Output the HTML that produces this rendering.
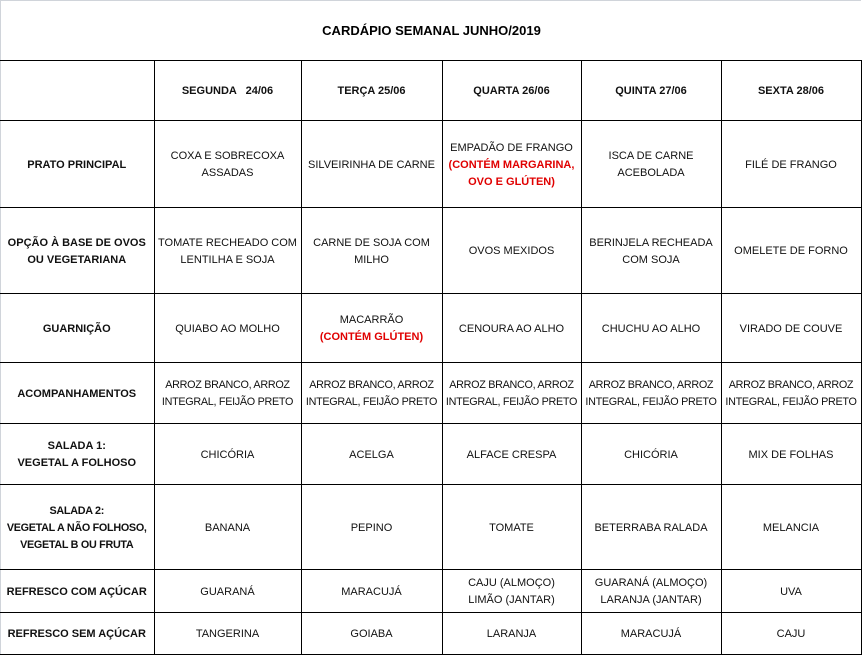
<!DOCTYPE html>
<html><head><meta charset="utf-8"><style>
body{margin:0;width:863px;height:656px;background:#fff;overflow:hidden;font-family:"Liberation Sans",sans-serif;position:relative}
.frame{position:absolute;left:0;top:0;width:861px;height:654px;border-left:1px solid #d0d4da;border-top:1px solid #d0d4da;box-sizing:border-box}
.title{position:absolute;left:0;top:1px;width:863px;height:60px;line-height:60px;text-align:center;font-weight:bold;font-size:13px;color:#000}
table{position:absolute;left:0;top:60px;border-collapse:collapse;table-layout:fixed}
td{border:1px solid #000;padding:2px 0 0 0;text-align:center;vertical-align:middle;font-size:11px;line-height:17px;color:#111;white-space:nowrap;overflow:hidden}
td.h{font-weight:bold}
td.t{letter-spacing:-0.3px;font-size:10.8px}
tr td:first-child{border-left:none;font-weight:bold}
.r{color:#e00000;font-weight:bold}
</style></head><body>
<div class="frame"></div>
<div class="title">CARDÁPIO SEMANAL JUNHO/2019</div>
<table>
<colgroup><col style="width:154px"><col style="width:147px"><col style="width:141px"><col style="width:139px"><col style="width:140px"><col style="width:140px"></colgroup>
<tr style="height:60px"><td></td><td class="h">SEGUNDA &nbsp; 24/06</td><td class="h">TERÇA 25/06</td><td class="h">QUARTA 26/06</td><td class="h">QUINTA 27/06</td><td class="h">SEXTA 28/06</td></tr>
<tr style="height:87px"><td>PRATO PRINCIPAL</td><td>COXA E SOBRECOXA<br>ASSADAS</td><td>SILVEIRINHA DE CARNE</td><td>EMPADÃO DE FRANGO<br><span class="r">(CONTÉM MARGARINA,<br>OVO E GLÚTEN)</span></td><td>ISCA DE CARNE<br>ACEBOLADA</td><td>FILÉ DE FRANGO</td></tr>
<tr style="height:86px"><td>OPÇÃO À BASE DE OVOS<br>OU VEGETARIANA</td><td>TOMATE RECHEADO COM<br>LENTILHA E SOJA</td><td>CARNE DE SOJA COM<br>MILHO</td><td>OVOS MEXIDOS</td><td>BERINJELA RECHEADA<br>COM SOJA</td><td>OMELETE DE FORNO</td></tr>
<tr style="height:69px"><td>GUARNIÇÃO</td><td>QUIABO AO MOLHO</td><td>MACARRÃO<br><span class="r">(CONTÉM GLÚTEN)</span></td><td>CENOURA AO ALHO</td><td>CHUCHU AO ALHO</td><td>VIRADO DE COUVE</td></tr>
<tr style="height:61px"><td>ACOMPANHAMENTOS</td><td class="t">ARROZ BRANCO, ARROZ<br>INTEGRAL, FEIJÃO PRETO</td><td class="t">ARROZ BRANCO, ARROZ<br>INTEGRAL, FEIJÃO PRETO</td><td class="t">ARROZ BRANCO, ARROZ<br>INTEGRAL, FEIJÃO PRETO</td><td class="t">ARROZ BRANCO, ARROZ<br>INTEGRAL, FEIJÃO PRETO</td><td class="t">ARROZ BRANCO, ARROZ<br>INTEGRAL, FEIJÃO PRETO</td></tr>
<tr style="height:61px"><td>SALADA 1:<br>VEGETAL A FOLHOSO</td><td>CHICÓRIA</td><td>ACELGA</td><td>ALFACE CRESPA</td><td>CHICÓRIA</td><td>MIX DE FOLHAS</td></tr>
<tr style="height:85px"><td class="t">SALADA 2:<br>VEGETAL A NÃO FOLHOSO,<br>VEGETAL B OU FRUTA</td><td>BANANA</td><td>PEPINO</td><td>TOMATE</td><td>BETERRABA RALADA</td><td>MELANCIA</td></tr>
<tr style="height:43px"><td>REFRESCO COM AÇÚCAR</td><td>GUARANÁ</td><td>MARACUJÁ</td><td>CAJU (ALMOÇO)<br>LIMÃO (JANTAR)</td><td>GUARANÁ (ALMOÇO)<br>LARANJA (JANTAR)</td><td>UVA</td></tr>
<tr style="height:42px"><td>REFRESCO SEM AÇÚCAR</td><td>TANGERINA</td><td>GOIABA</td><td>LARANJA</td><td>MARACUJÁ</td><td>CAJU</td></tr>
</table>
</body></html>
